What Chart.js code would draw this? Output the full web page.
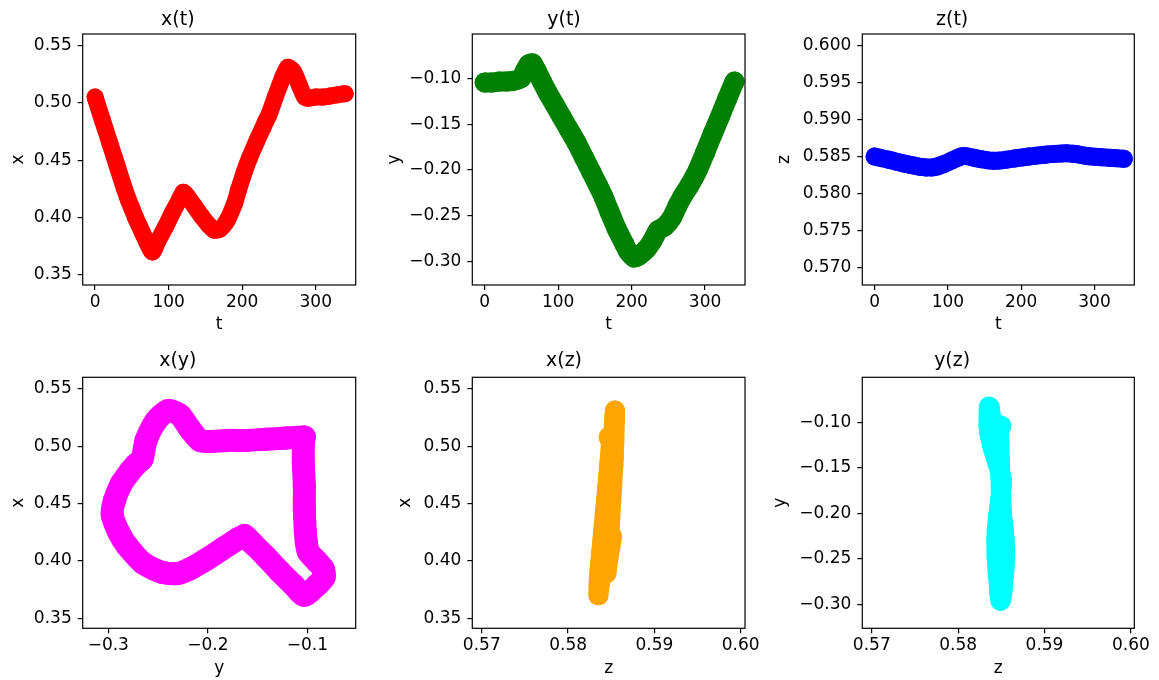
<!DOCTYPE html>
<html><head><meta charset="utf-8">
<script src="https://cdn.jsdelivr.net/npm/chart.js@4.4.0/dist/chart.umd.min.js"></script>
<style>
html,body{margin:0;padding:0;background:#fff;}
#wrap{position:relative;width:1159px;height:680px;overflow:hidden;background:#fff;}
#wrap canvas{position:absolute;}
</style></head><body><div id="wrap"></div>
<script>
// ---- data ----
const T = [0,10,20,30,40,45,50,55,60,65,70,78,85,95,105,115,120,125,135,145,155,162,170,180,190,195,203,210,220,228,232,236,245,255,262,270,278,285,290,300,310,320,330,340];
const X = [0.505,0.485,0.465,0.445,0.425,0.416,0.408,0.400,0.393,0.386,0.379,0.370,0.379,0.391,0.404,0.416,0.422,0.419,0.410,0.401,0.393,0.389,0.390,0.398,0.413,0.424,0.440,0.452,0.467,0.478,0.484,0.489,0.505,0.522,0.531,0.527,0.515,0.505,0.504,0.505,0.505,0.506,0.507,0.508];
const Y = [-0.104,-0.104,-0.103,-0.103,-0.102,-0.101,-0.099,-0.091,-0.084,-0.083,-0.090,-0.103,-0.114,-0.128,-0.142,-0.156,-0.163,-0.170,-0.186,-0.202,-0.218,-0.230,-0.246,-0.265,-0.281,-0.289,-0.296,-0.294,-0.287,-0.278,-0.272,-0.266,-0.262,-0.252,-0.240,-0.228,-0.218,-0.208,-0.200,-0.181,-0.161,-0.142,-0.122,-0.103];
const Z = [0.58500,0.58478,0.58455,0.58430,0.58405,0.58395,0.58385,0.58375,0.58365,0.58358,0.58353,0.58352,0.58365,0.58400,0.58445,0.58490,0.58505,0.58505,0.58485,0.58465,0.58448,0.58442,0.58445,0.58458,0.58472,0.58480,0.58490,0.58500,0.58512,0.58520,0.58525,0.58529,0.58536,0.58542,0.58544,0.58538,0.58528,0.58515,0.58508,0.58498,0.58490,0.58483,0.58477,0.58470];

const tTicks = [0,100,200,300];
const tTickLabels = ['0','100','200','300'];
const xTicks = [0.35,0.40,0.45,0.50,0.55];
const xTickLabels = ['0.35','0.40','0.45','0.50','0.55'];
const yTicks = [-0.30,-0.25,-0.20,-0.15,-0.10];
const yTickLabels = ['\u22120.30','\u22120.25','\u22120.20','\u22120.15','\u22120.10'];
const zTicks = [0.570,0.575,0.580,0.585,0.590,0.595,0.600];
const zTickLabels = ['0.570','0.575','0.580','0.585','0.590','0.595','0.600'];
const yTicksCoarse = [-0.3,-0.2,-0.1];
const yTickLabelsCoarse = ['\u22120.3','\u22120.2','\u22120.1'];
const zTicksCoarse = [0.57,0.58,0.59,0.60];
const zTickLabelsCoarse = ['0.57','0.58','0.59','0.60'];

const titles = ['x(t)','y(t)','z(t)','x(y)','x(z)','y(z)'];
const colors = ['#ff0000','#008000','#0000ff','#ff00ff','#ffa500','#00ffff'];

// ---- layout / style ----
const FONT = "'DejaVu Sans', sans-serif";
const TICK_SIZE = 17;
Chart.defaults.font.family = FONT;
Chart.defaults.font.size = TICK_SIZE;
Chart.defaults.color = '#000';

const framePlugin = {
  id: 'frame',
  afterDatasetsDraw(chart) {
    const {ctx, chartArea: a} = chart;
    ctx.save();
    ctx.strokeStyle = '#000';
    ctx.lineWidth = 1.2;
    ctx.strokeRect(a.left, a.top, a.right - a.left, a.bottom - a.top);
    ctx.restore();
  }
};

const panels = [
  {xs:T, ys:X, xl:'t', yl:'x', xr:[-16.8,354.3], yr:[0.3412,0.5600], xt:tTicks, xtl:tTickLabels, yt:xTicks, ytl:xTickLabels,
   cx:0, cy:0, cw:383, box:{l:82.7, r:355.7, t:34, b:285}, lw:17, ylPad:8.1, xlPad:4.8, titleTop:8.6},
  {xs:T, ys:Y, xl:'t', yl:'y', xr:[-16.8,354.3], yr:[-0.3262,-0.0508], xt:tTicks, xtl:tTickLabels, yt:yTicks, ytl:yTickLabels,
   cx:383, cy:0, cw:387, box:{l:472.3, r:745, t:34, b:285}, lw:20, ylPad:0.9, xlPad:4.8, titleTop:8.6},
  {xs:T, ys:Z, xl:'t', yl:'z', xr:[-16.8,354.3], yr:[0.5676,0.6016], xt:tTicks, xtl:tTickLabels, yt:zTicks, ytl:zTickLabels,
   cx:770, cy:0, cw:389, box:{l:862.3, r:1134.3, t:34, b:285}, lw:18, ylPad:4.8, xlPad:4.8, titleTop:8.6},
  {xs:Y, ys:X, xl:'y', yl:'x', xr:[-0.3257,-0.0514], yr:[0.3412,0.5600], xt:yTicksCoarse, xtl:yTickLabelsCoarse, yt:xTicks, ytl:xTickLabels,
   cx:0, cy:340, cw:383, box:{l:82.7, r:355.7, t:377.3, b:628.3}, lw:23, ylPad:8.1, xlPad:1.7, titleTop:9.6},
  {xs:Z, ys:X, xl:'z', yl:'x', xr:[0.5689,0.6005], yr:[0.3412,0.5600], xt:zTicksCoarse, xtl:zTickLabelsCoarse, yt:xTicks, ytl:xTickLabels,
   cx:383, cy:340, cw:387, box:{l:472.3, r:745, t:377.3, b:628.3}, lw:20, ylPad:12.5, xlPad:0.8, titleTop:9.6},
  {xs:Z, ys:Y, xl:'z', yl:'y', xr:[0.5689,0.6004], yr:[-0.3262,-0.0508], xt:zTicksCoarse, xtl:zTickLabelsCoarse, yt:yTicks, ytl:yTickLabels,
   cx:770, cy:340, cw:389, box:{l:862.3, r:1134.3, t:377.3, b:628.3}, lw:20, ylPad:0.5, xlPad:0.8, titleTop:9.6}
];

const wrap = document.getElementById('wrap');
const CH = 340;
const TITLE_SIZE = 19, TITLE_LH = 1.2;

panels.forEach((p, k) => {
  const cv = document.createElement('canvas');
  cv.width = p.cw; cv.height = CH;
  cv.style.width = p.cw + 'px'; cv.style.height = CH + 'px';
  cv.style.left = p.cx + 'px'; cv.style.top = p.cy + 'px';
  wrap.appendChild(cv);
  const boxL = p.box.l - p.cx, boxR = p.box.r - p.cx, boxT = p.box.t - p.cy, boxB = p.box.b - p.cy;
  const titleBottomPad = boxT - p.titleTop - TITLE_SIZE * TITLE_LH;
  const pts = p.xs.map((v, i) => ({x: v, y: p.ys[i]}));
  const gridOpts = {display:true, drawOnChartArea:false, drawTicks:true, tickLength:5, color:'#000', lineWidth:1.2};
  new Chart(cv, {
    type: 'scatter',
    data: {datasets: [{
      data: pts,
      showLine: true,
      borderColor: colors[k],
      backgroundColor: colors[k],
      pointBackgroundColor: colors[k],
      pointBorderColor: colors[k],
      pointBorderWidth: 0,
      pointRadius: p.lw / 2,
      pointHoverRadius: p.lw / 2,
      borderWidth: p.lw,
      borderCapStyle: 'round',
      borderJoinStyle: 'round',
      tension: 0.25
    }]},
    options: {
      responsive: false,
      animation: false,
      devicePixelRatio: 1,
      events: [],
      layout: {padding: {left: 0, right: p.cw - boxR, top: 0, bottom: 0}},
      plugins: {
        legend: {display: false},
        tooltip: {enabled: false},
        title: {display: true, text: titles[k], color: '#000',
          font: {family: FONT, size: TITLE_SIZE, weight: 'normal', lineHeight: TITLE_LH},
          padding: {top: p.titleTop, bottom: titleBottomPad}}
      },
      scales: {
        x: {
          type: 'linear', position: 'bottom', bounds: 'data',
          min: p.xr[0], max: p.xr[1],
          afterBuildTicks: s => { s.ticks = p.xt.map(v => ({value: v})); },
          afterFit: s => { s.height = CH - boxB; },
          ticks: {autoSkip: false, maxRotation: 0, minRotation: 0, padding: 2.4, color: '#000',
            font: {size: TICK_SIZE}, callback: (v, i) => p.xtl[i]},
          grid: gridOpts,
          border: {display: false},
          title: {display: true, text: p.xl, color: '#000', font: {size: TICK_SIZE, lineHeight: 1.2},
            padding: {top: 0, bottom: p.xlPad}}
        },
        y: {
          type: 'linear', position: 'left', bounds: 'data',
          min: p.yr[0], max: p.yr[1],
          afterBuildTicks: s => { s.ticks = p.yt.map(v => ({value: v})); },
          afterFit: s => { s.width = boxL; },
          ticks: {autoSkip: false, padding: 6, color: '#000',
            font: {size: TICK_SIZE}, callback: (v, i) => p.ytl[i]},
          grid: gridOpts,
          border: {display: false},
          title: {display: true, text: p.yl, color: '#000', font: {size: TICK_SIZE, lineHeight: 1.2},
            padding: {top: p.ylPad, bottom: 0}}
        }
      }
    },
    plugins: [framePlugin]
  });
});
</script>
</body></html>
